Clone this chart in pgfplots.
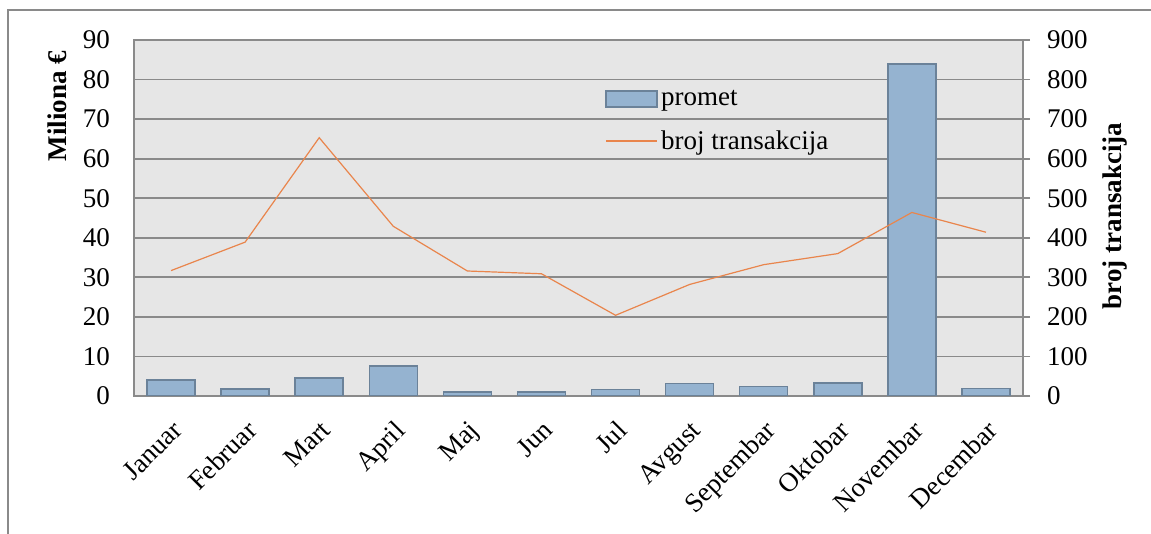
\documentclass[border=0pt]{standalone}
\usepackage{fontspec}
\setmainfont{Liberation Serif}
\usepackage{pgfplots}
\pgfplotsset{compat=1.18}
\definecolor{barfill}{HTML}{95B3D0}
\definecolor{baredge}{HTML}{6B8299}
\definecolor{lineor}{HTML}{E9854C}
\definecolor{gridc}{HTML}{8A8A8A}
\definecolor{bgc}{HTML}{E6E6E6}
\newcommand\cf{\fontsize{27}{32}\selectfont}
\begin{document}
\begin{tikzpicture}[x=1pt,y=1pt]
\useasboundingbox (0,0) rectangle (1151,534);
\draw[gridc, line width=1.5pt] (8,0) -- (8,524) -- (1151,524);
\begin{axis}[
  at={(134pt,138pt)}, anchor=south west, scale only axis,
  width=889pt, height=356pt,
  xmin=-0.5, xmax=11.5, ymin=0, ymax=90,
  axis background/.style={fill=bgc},
  axis line style={gridc, line width=1.8pt},
  ymajorgrids, major grid style={gridc, line width=1.8pt},
  ytick={0,10,...,90}, major tick length=0pt,
  xtick={0,...,11},
  xticklabels={Januar,Februar,Mart,April,Maj,Jun,Jul,Avgust,Septembar,Oktobar,Novembar,Decembar},
  xticklabel style={rotate=45, anchor=north east, inner sep=0pt, font=\cf},
  xticklabel shift=23pt,
  yticklabel style={inner sep=0pt, font=\cf},
  yticklabel shift=24pt,
  /pgf/number format/assume math mode=true,
  legend style={draw=none, fill=none, inner sep=0pt, font=\cf,
    nodes={inner sep=0.333em},
    at={(0.530,0.868)}, anchor=north west, row sep=17pt, column sep=0pt},
  legend cell align=left,
]
\addplot[ybar, bar width=48pt, fill=barfill, draw=baredge, line width=1.5pt,
  legend image code/.code={\draw[fill=barfill, draw=baredge, line width=1.5pt] (0pt,-8pt) rectangle (51pt,8pt);}]
  coordinates {(0,4.0) (1,1.8) (2,4.6) (3,7.6) (4,1.0) (5,1.0) (6,1.7) (7,3.1) (8,2.4) (9,3.3) (10,83.9) (11,1.9)};
\addlegendentry{promet}
\addlegendimage{lineor, line width=1.2pt, legend image code/.code={\draw[lineor, line width=1.2pt] (0pt,0pt) -- (51pt,0pt);}}
\addlegendentry{broj transakcija}
\end{axis}
\begin{axis}[
  at={(134pt,138pt)}, anchor=south west, scale only axis,
  width=889pt, height=356pt,
  xmin=-0.5, xmax=11.5, ymin=0, ymax=900,
  axis x line=none, axis y line*=right,
  axis line style={gridc, line width=1.8pt},
  ytick={0,100,...,900}, tick align=outside, major tick length=7pt,
  tick style={gridc, line width=1.8pt},
  yticklabel style={inner sep=0pt, font=\cf, anchor=west},
  yticklabel shift=17pt,
  /pgf/number format/assume math mode=true,
]
\addplot[lineor, line width=1.2pt, mark=none]
  coordinates {(0,317) (1,389) (2,653) (3,429) (4,316) (5,309) (6,204) (7,282) (8,332) (9,360) (10,464) (11,414)};
\end{axis}
\node[rotate=90, font=\cf\bfseries] at (57,428) {Miliona €};
\node[rotate=90, font=\cf\bfseries] at (1115,318) {broj transakcija};
\end{tikzpicture}
\end{document}
